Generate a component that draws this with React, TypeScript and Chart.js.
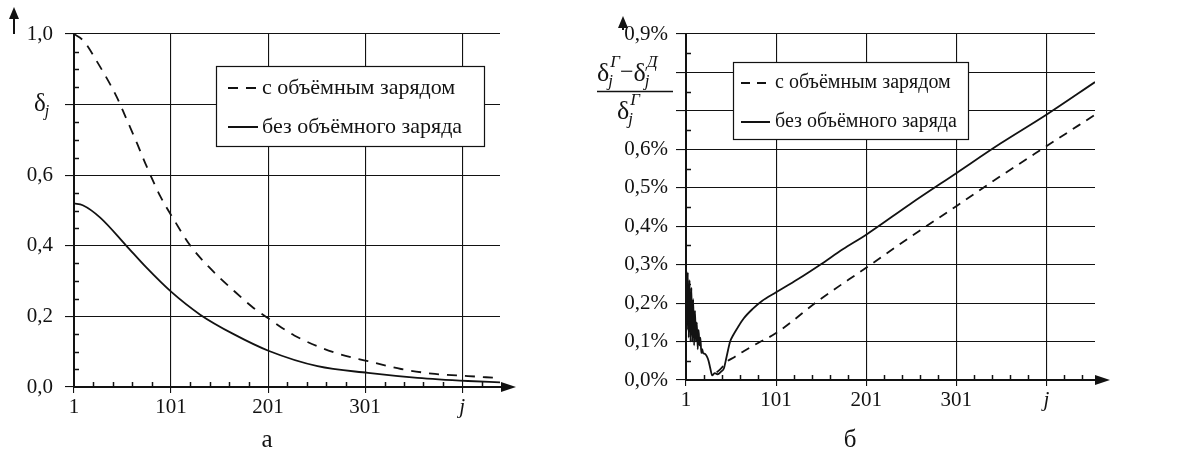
import React, { useEffect, useRef } from "react";
import { Chart, registerables } from "chart.js";

Chart.register(...registerables);

const FONT = '"Liberation Serif", "Times New Roman", serif';
const INK = "#121212";

// ---------- Chart а (left) ----------
const leftTicksX = [1, 101, 201, 301, 401];
const leftTickLabelsX = ["1", "101", "201", "301", "j"];
const leftTicksY = [0, 0.2, 0.4, 0.6, 0.8, 1.0];
const leftTickLabelsY = ["0,0", "0,2", "0,4", "0,6", "", "1,0"];
const leftWithChargeJ = [1, 11, 24, 45, 54, 66, 76, 90, 102, 121, 140, 166, 186, 202, 228, 269, 304, 338, 373, 407, 440];
const leftWithChargeV = [1.0, 0.98, 0.925, 0.822, 0.766, 0.69, 0.624, 0.54, 0.483, 0.4, 0.34, 0.272, 0.224, 0.193, 0.146, 0.098, 0.073, 0.051, 0.037, 0.031, 0.025];
const leftWithoutChargeJ = [1, 10, 28, 55, 75, 101, 131, 166, 202, 252, 304, 355, 407, 440];
const leftWithoutChargeV = [0.52, 0.515, 0.48, 0.4, 0.34, 0.27, 0.205, 0.149, 0.102, 0.059, 0.04, 0.026, 0.017, 0.013];

// ---------- Chart б (right), values in % ----------
const rightTicksX = [1, 101, 201, 301, 401];
const rightTickLabelsX = ["1", "101", "201", "301", "j"];
const rightTicksY = [0, 0.1, 0.2, 0.3, 0.4, 0.5, 0.6, 0.7, 0.8, 0.9];
const rightTickLabelsY = ["0,0%", "0,1%", "0,2%", "0,3%", "0,4%", "0,5%", "0,6%", "", "", "0,9%"];
const rightWithChargeJ = [35, 40, 45, 55, 65, 80, 101, 150, 201, 250, 301, 350, 401, 455];
const rightWithChargeV = [0.02, 0.03, 0.045, 0.06, 0.075, 0.095, 0.122, 0.21, 0.292, 0.372, 0.452, 0.53, 0.608, 0.69];
const rightWithoutChargeJ = [1, 2, 3, 4, 5, 6, 7, 8, 9, 10, 11, 12, 13, 14, 15, 16, 17, 18, 19, 20, 22, 24, 26, 28, 30, 33, 36, 40, 43, 46, 50, 53, 58, 65, 75, 85, 101, 125, 150, 175, 201, 250, 301, 350, 401, 455];
const rightWithoutChargeV = [0.3, 0.13, 0.28, 0.11, 0.26, 0.1, 0.24, 0.1, 0.21, 0.09, 0.18, 0.1, 0.15, 0.08, 0.13, 0.09, 0.11, 0.07, 0.08, 0.07, 0.068, 0.062, 0.05, 0.03, 0.012, 0.018, 0.015, 0.022, 0.03, 0.06, 0.1, 0.115, 0.135, 0.16, 0.185, 0.205, 0.228, 0.262, 0.3, 0.34, 0.378, 0.458, 0.538, 0.615, 0.69, 0.775];

const seriesLabels = ["с объёмным зарядом", "без объёмного заряда"];

const zip = (xs: number[], ys: number[]) => xs.map((x, i) => ({ x, y: ys[i] }));

function range(from: number, to: number, step: number, skip: (v: number) => boolean) {
  const out: number[] = [];
  for (let i = 0; from + i * step <= to + 1e-9; i++) {
    const v = +(from + i * step).toFixed(4);
    if (!skip(v)) out.push(v);
  }
  return out;
}

function drawDelta(ctx: CanvasRenderingContext2D, x: number, base: number, sup: string | null, size: number) {
  ctx.font = `${size}px ${FONT}`;
  ctx.textAlign = "left";
  ctx.textBaseline = "alphabetic";
  ctx.fillText("δ", x, base);
  const w = ctx.measureText("δ").width;
  const s = Math.round(size * 0.64);
  ctx.font = `italic ${s}px ${FONT}`;
  ctx.fillText("j", x + w - 1, base + 5);
  let end = x + w + ctx.measureText("j").width;
  if (sup) {
    ctx.fillText(sup, x + w + 1, base - size * 0.52);
    end = Math.max(end, x + w + 1 + ctx.measureText(sup).width);
  }
  return end;
}

type DecorOpts = {
  name: string;
  minorX: number[];
  minorY: number[];
  arrowX: number;
  yArrow: { x: number; top: number; bottom: number };
  legend: { x: number; y: number; w: number; h: number; sx1: number; sx2: number; tx: number; rows: number[]; size: number };
  caption: { text: string; x: number; y: number };
  yLabel: (ctx: CanvasRenderingContext2D) => void;
};

function makeDecor(o: DecorOpts) {
  return {
    id: "decor_" + o.name,
    afterDraw(chart: any) {
      const ctx: CanvasRenderingContext2D = chart.ctx;
      const xs = chart.scales.x;
      const ys = chart.scales.y;
      const a = chart.chartArea;
      ctx.save();
      ctx.strokeStyle = INK;
      ctx.fillStyle = INK;
      ctx.setLineDash([]);
      // minor ticks
      ctx.lineWidth = 1.5;
      for (const v of o.minorY) {
        const py = Math.round(ys.getPixelForValue(v)) + 0.5;
        ctx.beginPath();
        ctx.moveTo(a.left, py);
        ctx.lineTo(a.left + 5, py);
        ctx.stroke();
      }
      for (const v of o.minorX) {
        const px = Math.round(xs.getPixelForValue(v)) + 0.5;
        ctx.beginPath();
        ctx.moveTo(px, a.bottom);
        ctx.lineTo(px, a.bottom - 5);
        ctx.stroke();
      }
      // x axis arrow
      ctx.lineWidth = 2;
      ctx.beginPath();
      ctx.moveTo(a.right, a.bottom);
      ctx.lineTo(o.arrowX - 8, a.bottom);
      ctx.stroke();
      ctx.beginPath();
      ctx.moveTo(o.arrowX, a.bottom);
      ctx.lineTo(o.arrowX - 15, a.bottom - 5);
      ctx.lineTo(o.arrowX - 15, a.bottom + 5);
      ctx.closePath();
      ctx.fill();
      // y arrow
      ctx.lineWidth = 2;
      ctx.beginPath();
      ctx.moveTo(o.yArrow.x, o.yArrow.bottom);
      ctx.lineTo(o.yArrow.x, o.yArrow.top + 8);
      ctx.stroke();
      ctx.beginPath();
      ctx.moveTo(o.yArrow.x, o.yArrow.top);
      ctx.lineTo(o.yArrow.x - 5, o.yArrow.top + 12);
      ctx.lineTo(o.yArrow.x + 5, o.yArrow.top + 12);
      ctx.closePath();
      ctx.fill();
      // legend
      const L = o.legend;
      ctx.fillStyle = "#fff";
      ctx.fillRect(L.x, L.y, L.w, L.h);
      ctx.strokeStyle = INK;
      ctx.lineWidth = 1.2;
      ctx.strokeRect(L.x + 0.5, L.y + 0.5, L.w, L.h);
      ctx.fillStyle = INK;
      chart.data.datasets.forEach((ds: any, i: number) => {
        const cy = L.rows[i];
        ctx.save();
        ctx.lineWidth = 2;
        ctx.setLineDash(ds.borderDash || []);
        ctx.beginPath();
        ctx.moveTo(L.sx1, cy);
        ctx.lineTo(L.sx2, cy);
        ctx.stroke();
        ctx.restore();
        ctx.font = `${L.size}px ${FONT}`;
        ctx.textAlign = "left";
        ctx.textBaseline = "middle";
        ctx.fillText(ds.label, L.tx, cy);
      });
      // y label
      o.yLabel(ctx);
      // caption
      ctx.font = `25px ${FONT}`;
      ctx.textAlign = "center";
      ctx.textBaseline = "middle";
      ctx.fillText(o.caption.text, o.caption.x, o.caption.y);
      ctx.restore();
    },
  };
}

function baseScales(p: {
  xMin: number; xMax: number; xTicks: number[]; xLabels: string[]; xHeight: number;
  yMin: number; yMax: number; yTicks: number[]; yLabels: string[]; yWidth: number; ySize: number; yPad: number; yTick: number;
}) {
  return {
    x: {
      type: "linear",
      min: p.xMin,
      max: p.xMax,
      afterBuildTicks: (s: any) => { s.ticks = p.xTicks.map((v) => ({ value: v })); },
      afterFit: (s: any) => { s.height = p.xHeight; },
      ticks: {
        autoSkip: false,
        maxRotation: 0,
        color: INK,
        padding: 2,
        callback: (_v: any, i: number) => p.xLabels[i],
        font: (c: any) => ({ family: FONT, size: 21, style: c.tick && c.tick.value === 401 ? "italic" : "normal" }),
      },
      grid: { color: INK, lineWidth: 1.1, tickLength: 6, drawTicks: true },
      border: { display: true, color: INK, width: 2 },
    },
    y: {
      type: "linear",
      min: p.yMin,
      max: p.yMax,
      afterBuildTicks: (s: any) => { s.ticks = p.yTicks.map((v) => ({ value: v })); },
      afterFit: (s: any) => { s.width = p.yWidth; },
      ticks: {
        color: INK,
        padding: p.yPad,
        callback: (_v: any, i: number) => p.yLabels[i],
        font: { family: FONT, size: p.ySize },
      },
      grid: { color: INK, lineWidth: 1.1, tickLength: p.yTick, drawTicks: true },
      border: { display: true, color: INK, width: 2 },
    },
  };
}

function lineDatasets(a: { x: number; y: number }[], b: { x: number; y: number }[], dash: number[]) {
  return [
    {
      label: seriesLabels[0],
      data: a,
      borderColor: INK,
      borderWidth: 1.8,
      borderDash: dash,
      pointRadius: 0,
      fill: false,
      cubicInterpolationMode: "monotone",
    },
    {
      label: seriesLabels[1],
      data: b,
      borderColor: INK,
      borderWidth: 1.8,
      borderDash: [],
      pointRadius: 0,
      fill: false,
      cubicInterpolationMode: "monotone",
    },
  ];
}

export default function App() {
  const leftRef = useRef<HTMLCanvasElement>(null);
  const rightRef = useRef<HTMLCanvasElement>(null);

  useEffect(() => {
    const leftDecor = makeDecor({
      name: "a",
      minorX: range(21, 440, 20, (v) => (v - 1) % 100 === 0),
      minorY: range(0.05, 0.95, 0.05, (v) => Math.abs(v * 5 - Math.round(v * 5)) < 1e-6),
      arrowX: 516,
      yArrow: { x: 14, top: 7, bottom: 34 },
      legend: { x: 216, y: 66, w: 268, h: 80, sx1: 228, sx2: 258, tx: 262, rows: [88, 127], size: 22 },
      caption: { text: "а", x: 267, y: 440 },
      yLabel: (ctx) => { ctx.fillStyle = INK; drawDelta(ctx, 34, 111, null, 25); },
    });

    const left = new Chart(leftRef.current!, {
      type: "line",
      data: { datasets: lineDatasets(zip(leftWithChargeJ, leftWithChargeV), zip(leftWithoutChargeJ, leftWithoutChargeV), [10, 8]) as any },
      options: {
        animation: false,
        responsive: false,
        maintainAspectRatio: false,
        layout: { padding: { left: 0, top: 34, right: 90, bottom: 0 } },
        plugins: { legend: { display: false }, tooltip: { enabled: false } },
        scales: baseScales({
          xMin: 1, xMax: 440, xTicks: leftTicksX, xLabels: leftTickLabelsX, xHeight: 66,
          yMin: 0, yMax: 1, yTicks: leftTicksY, yLabels: leftTickLabelsY, yWidth: 74, ySize: 21, yPad: 12, yTick: 9,
        }) as any,
      },
      plugins: [leftDecor as any],
    });

    const rightDecor = makeDecor({
      name: "b",
      minorX: range(21, 455, 20, (v) => (v - 1) % 100 === 0),
      minorY: range(0.05, 0.85, 0.1, () => false),
      arrowX: 520,
      yArrow: { x: 33, top: 16, bottom: 30 },
      legend: { x: 143, y: 62, w: 235, h: 77, sx1: 151, sx2: 180, tx: 185, rows: [83, 122], size: 20 },
      caption: { text: "б", x: 260, y: 440 },
      yLabel: (ctx) => {
        ctx.fillStyle = INK;
        ctx.strokeStyle = INK;
        // numerator: δjГ − δjД
        let x = 7;
        x = drawDelta(ctx, x, 81, "Г", 26);
        ctx.font = `24px ${FONT}`;
        ctx.textBaseline = "alphabetic";
        ctx.fillText("−", x, 79);
        x += ctx.measureText("−").width;
        drawDelta(ctx, x, 81, "Д", 26);
        // bar
        ctx.lineWidth = 1.6;
        ctx.beginPath();
        ctx.moveTo(7, 91.5);
        ctx.lineTo(83, 91.5);
        ctx.stroke();
        // denominator
        drawDelta(ctx, 27, 119, "Г", 26);
      },
    });

    const right = new Chart(rightRef.current!, {
      type: "line",
      data: { datasets: lineDatasets(zip(rightWithChargeJ, rightWithChargeV), zip(rightWithoutChargeJ, rightWithoutChargeV), [9, 7]) as any },
      options: {
        animation: false,
        responsive: false,
        maintainAspectRatio: false,
        layout: { padding: { left: 0, top: 34, right: 87, bottom: 0 } },
        plugins: { legend: { display: false }, tooltip: { enabled: false } },
        scales: baseScales({
          xMin: 1, xMax: 455, xTicks: rightTicksX, xLabels: rightTickLabelsX, xHeight: 73,
          yMin: 0, yMax: 0.9, yTicks: rightTicksY, yLabels: rightTickLabelsY, yWidth: 96, ySize: 21, yPad: 8, yTick: 10,
        }) as any,
      },
      plugins: [rightDecor as any],
    });

    return () => {
      left.destroy();
      right.destroy();
    };
  }, []);

  return (
    <div style={{ position: "fixed", left: 0, top: 0, width: 1182, height: 453, background: "#fff", overflow: "hidden" }}>
      <canvas ref={leftRef} width={590} height={453} style={{ position: "absolute", left: 0, top: 0, width: 590, height: 453 }} />
      <canvas ref={rightRef} width={592} height={453} style={{ position: "absolute", left: 590, top: 0, width: 592, height: 453 }} />
    </div>
  );
}
